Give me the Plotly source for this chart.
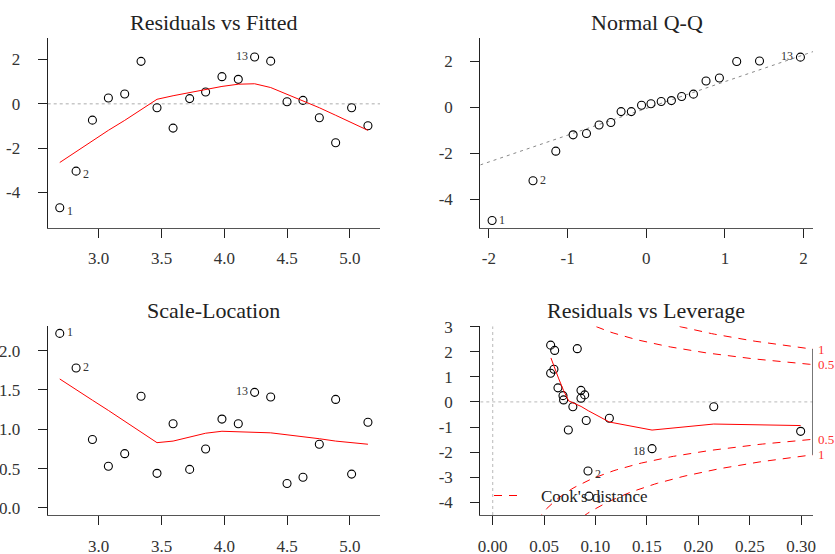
import plotly.graph_objects as go

# ---------------- data ----------------
fitted = [2.690, 2.820, 2.950, 3.077, 3.207, 3.337, 3.464, 3.592, 3.724, 3.851,
          3.981, 4.111, 4.241, 4.369, 4.499, 4.626, 4.756, 4.886, 5.013, 5.143]
residuals = [-4.69, -3.04, -0.74, 0.26, 0.44, 1.91, -0.18, -1.10, 0.23, 0.53,
             1.22, 1.10, 2.11, 1.92, 0.09, 0.15, -0.63, -1.76, -0.18, -0.99]
smooth_rf = [-2.65, -2.15, -1.65, -1.20, -0.75, -0.28, 0.20, 0.36, 0.50, 0.64,
             0.78, 0.88, 0.90, 0.73, 0.42, 0.15, -0.18, -0.52, -0.86, -1.20]

theo_q = [-1.96, -1.44, -1.15, -0.93, -0.76, -0.60, -0.45, -0.32, -0.19, -0.06,
          0.06, 0.19, 0.32, 0.45, 0.60, 0.76, 0.93, 1.15, 1.44, 1.96]
std_res_sorted = [-4.93, -3.20, -1.91, -1.20, -1.14, -0.77, -0.66, -0.19, -0.19, 0.09,
                  0.15, 0.25, 0.29, 0.47, 0.57, 1.14, 1.27, 1.99, 2.01, 2.18]
qq_intercept = -0.05
qq_slope = 1.165

sqrt_abs_res = [2.22, 1.78, 0.87, 0.53, 0.69, 1.42, 0.44, 1.07, 0.49, 0.75,
                1.13, 1.07, 1.47, 1.41, 0.31, 0.39, 0.81, 1.38, 0.43, 1.09]
smooth_sl = [1.64, 1.50, 1.37, 1.24, 1.10, 0.96, 0.83, 0.85, 0.90, 0.95,
             0.975, 0.97, 0.96, 0.955, 0.93, 0.91, 0.88, 0.85, 0.83, 0.81]

leverage = [0.0564, 0.0603, 0.0823, 0.0596, 0.0564, 0.0635, 0.0684, 0.0690, 0.0859, 0.0895,
            0.0859, 0.0780, 0.0910, 0.1135, 0.0736, 0.1550, 0.2150, 0.2995, 0.0927, 0.0937]
lev_res = [2.26, 2.05, 2.12, 1.30, 1.14, 0.56, 0.25, 0.08, 0.46, 0.28,
           0.15, -0.19, -0.74, -0.65, -1.12, -1.86, -0.19, -1.17, -2.75, -3.75]
smooth_lev_h = [0.0567, 0.0600, 0.0640, 0.0690, 0.0740, 0.0860, 0.0930, 0.1135, 0.155, 0.215, 0.2995]
smooth_lev_r = [1.75, 1.35, 0.95, 0.45, 0.04, -0.18, -0.35, -0.80, -1.12, -0.88, -0.94]
cook_levels = [0.5, 1.0]
n_params = 2

titles = ["Residuals vs Fitted", "Normal Q-Q", "Scale-Location", "Residuals vs Leverage"]

ticks_fit = [3.0, 3.5, 4.0, 4.5, 5.0]
ticks_res = [-4, -2, 0, 2]
ticks_qx = [-2, -1, 0, 1, 2]
ticks_sl = [0.0, 0.5, 1.0, 1.5, 2.0]
ticks_lev = [0.00, 0.05, 0.10, 0.15, 0.20, 0.25, 0.30]
ticks_lr = [-4, -3, -2, -1, 0, 1, 2, 3]

# ---------------- layout constants ----------------
W, H = 835, 554
FONT = "Liberation Serif"
RED = "red"

def px_x(p):
    return p / W

def px_y(p):
    return 1 - p / H

xr1 = [2.594, 5.239]
yr1 = [-5.59, 2.95]
xr2 = [-2.11, 2.12]
yr2 = [-5.24, 3.0]
xr3 = [2.594, 5.239]
yr3 = [-0.09, 2.31]
xr4 = [-0.012, 0.3115]
yr4 = [-4.50, 3.01]

fig = go.Figure()

mk = dict(symbol="circle-open", size=8, color="black", line=dict(width=1.1, color="black"))

# Panel 1
fig.add_trace(go.Scatter(x=fitted, y=residuals, mode="markers", marker=mk, xaxis="x", yaxis="y"))
fig.add_trace(go.Scatter(x=fitted, y=smooth_rf, mode="lines", line=dict(color=RED, width=1), xaxis="x", yaxis="y"))
# Panel 2
fig.add_trace(go.Scatter(x=[xr2[0], xr2[1]], y=[qq_intercept + qq_slope * xr2[0], qq_intercept + qq_slope * xr2[1]],
                         mode="lines", line=dict(color="#888", width=1, dash="3px,4px"), xaxis="x2", yaxis="y2"))
fig.add_trace(go.Scatter(x=theo_q, y=std_res_sorted, mode="markers", marker=mk, xaxis="x2", yaxis="y2"))
# Panel 3
fig.add_trace(go.Scatter(x=fitted, y=sqrt_abs_res, mode="markers", marker=mk, xaxis="x3", yaxis="y3"))
fig.add_trace(go.Scatter(x=fitted, y=smooth_sl, mode="lines", line=dict(color=RED, width=1), xaxis="x3", yaxis="y3"))
# Panel 4: Cook's distance contours
n_pts = 101
hh = [0.003 + (xr4[1] - 0.003) * i / (n_pts - 1) for i in range(n_pts)]
for lvl in cook_levels:
    up = [(lvl * n_params * (1 - h) / h) ** 0.5 for h in hh]
    fig.add_trace(go.Scatter(x=hh, y=up, mode="lines", line=dict(color=RED, width=1, dash="8px,7px"),
                             xaxis="x4", yaxis="y4"))
    fig.add_trace(go.Scatter(x=hh, y=[-v for v in up], mode="lines", line=dict(color=RED, width=1, dash="8px,7px"),
                             xaxis="x4", yaxis="y4"))
fig.add_trace(go.Scatter(x=leverage, y=lev_res, mode="markers", marker=mk, xaxis="x4", yaxis="y4"))
fig.add_trace(go.Scatter(x=smooth_lev_h, y=smooth_lev_r, mode="lines", line=dict(color=RED, width=1),
                         xaxis="x4", yaxis="y4"))

def fmt_ticks(vals, nd):
    return [("%.*f" % (nd, v)) for v in vals]

def xax(dom, rng, tv, nd, anchor):
    return dict(domain=dom, range=rng, tickvals=tv, ticktext=fmt_ticks(tv, nd), anchor=anchor,
                automargin=False,
                showgrid=False, zeroline=False, showline=True, linecolor="#555", linewidth=1.2,
                ticks="outside", ticklen=9, tickcolor="#222", tickwidth=1,
                tickfont=dict(family=FONT, size=17, color="#333"), ticklabelstandoff=6)

def yax(dom, rng, tv, nd, anchor):
    return dict(domain=dom, range=rng, tickvals=tv, ticktext=fmt_ticks(tv, nd), anchor=anchor,
                automargin=False,
                showgrid=False, zeroline=False, showline=True, linecolor="#222", linewidth=1.2,
                ticks="outside", ticklen=9, tickcolor="#222", tickwidth=1,
                tickfont=dict(family=FONT, size=17, color="#333"), ticklabelstandoff=14)

dx_left = [px_x(47.7), px_x(380)]
dx_right = [px_x(480.3), px_x(813)]
dy_top = [px_y(227.7), px_y(38.3)]
dy_bot = [px_y(515), px_y(326.3)]

shapes = []
# zero reference lines
for xa, ya, xr in [("x", "y", xr1), ("x4", "y4", xr4)]:
    shapes.append(dict(type="line", xref=xa, yref=ya, x0=xr[0], x1=xr[1], y0=0, y1=0,
                       line=dict(color="#c8c8c8", width=1.3, dash="dot"), layer="below"))
shapes.append(dict(type="line", xref="x4", yref="y4", x0=0, x1=0, y0=yr4[0], y1=yr4[1],
                   line=dict(color="#c8c8c8", width=1.3, dash="dot"), layer="below"))

annotations = []
# right-side Cook's axis
edge_h = xr4[1]
cook_y = [(lvl * n_params * (1 - edge_h) / edge_h) ** 0.5 for lvl in cook_levels]
shapes.append(dict(type="line", xref="x4", yref="y4", x0=edge_h, x1=edge_h, y0=-max(cook_y), y1=max(cook_y),
                   line=dict(color="#555", width=1.6)))
for lvl, yv in zip(cook_levels, cook_y):
    for s in (1, -1):
        annotations.append(dict(x=edge_h, y=s * yv, xref="x4", yref="y4", text=("1" if lvl == 1 else "0.5"),
                                showarrow=False, xanchor="left", xshift=3,
                                font=dict(family=FONT, size=13, color="#ff3030")))

# legend for Cook's distance
shapes.append(dict(type="line", xref="paper", yref="paper", x0=px_x(494), x1=px_x(520),
                   y0=px_y(495.5), y1=px_y(495.5), line=dict(color=RED, width=1.2, dash="8px,7px")))
annotations.append(dict(x=px_x(539), y=px_y(496), xref="paper", yref="paper", text="Cook's distance",
                        showarrow=False, xanchor="left", yanchor="middle",
                        font=dict(family=FONT, size=17, color="#222")))

# titles
for t, (cx, cy) in zip(titles, [(213, 22.7), (647, 22.7), (213, 310.5), (646, 310.5)]):
    annotations.append(dict(x=px_x(cx), y=px_y(cy), xref="paper", yref="paper", text=t, showarrow=False,
                            xanchor="center", yanchor="middle", font=dict(family=FONT, size=22, color="#222")))

# point labels
def lab(x, y, xa, ya, text, side, dy):
    annotations.append(dict(x=x, y=y, xref=xa, yref=ya, text=text, showarrow=False,
                            xanchor=("left" if side > 0 else "right"), xshift=5 * side, yshift=dy,
                            font=dict(family=FONT, size=12, color="#333")))

lab(fitted[0], residuals[0], "x", "y", "1", 1, -3)
lab(fitted[1], residuals[1], "x", "y", "2", 1, -3)
lab(fitted[12], residuals[12], "x", "y", "13", -1, 1)
lab(theo_q[0], std_res_sorted[0], "x2", "y2", "1", 1, 1)
lab(theo_q[1], std_res_sorted[1], "x2", "y2", "2", 1, 1)
lab(theo_q[19], std_res_sorted[19], "x2", "y2", "13", -1, 1)
lab(fitted[0], sqrt_abs_res[0], "x3", "y3", "1", 1, 1)
lab(fitted[1], sqrt_abs_res[1], "x3", "y3", "2", 1, 1)
lab(fitted[12], sqrt_abs_res[12], "x3", "y3", "13", -1, 1)
lab(leverage[15], lev_res[15], "x4", "y4", "18", -1, -2)
lab(leverage[18], lev_res[18], "x4", "y4", "2", 1, -3)
lab(leverage[19], lev_res[19], "x4", "y4", "1", 1, -3)

fig.update_layout(
    width=W, height=H, margin=dict(l=0, r=0, t=0, b=0, pad=0), autosize=False,
    paper_bgcolor="white", plot_bgcolor="white", showlegend=False,
    xaxis=xax(dx_left, xr1, ticks_fit, 1, "y"),
    yaxis=yax(dy_top, yr1, ticks_res, 0, "x"),
    xaxis2=xax(dx_right, xr2, ticks_qx, 0, "y2"),
    yaxis2=yax(dy_top, yr2, ticks_res, 0, "x2"),
    xaxis3=xax(dx_left, xr3, ticks_fit, 1, "y3"),
    yaxis3=yax(dy_bot, yr3, ticks_sl, 1, "x3"),
    xaxis4=xax(dx_right, xr4, ticks_lev, 2, "y4"),
    yaxis4=yax(dy_bot, yr4, ticks_lr, 0, "x4"),
    shapes=shapes, annotations=annotations,
)
fig.update_traces(cliponaxis=True)

fig.write_html("out.html", config={"displayModeBar": False},
               post_script="document.body.style.margin='0';document.body.style.overflow='hidden';")
